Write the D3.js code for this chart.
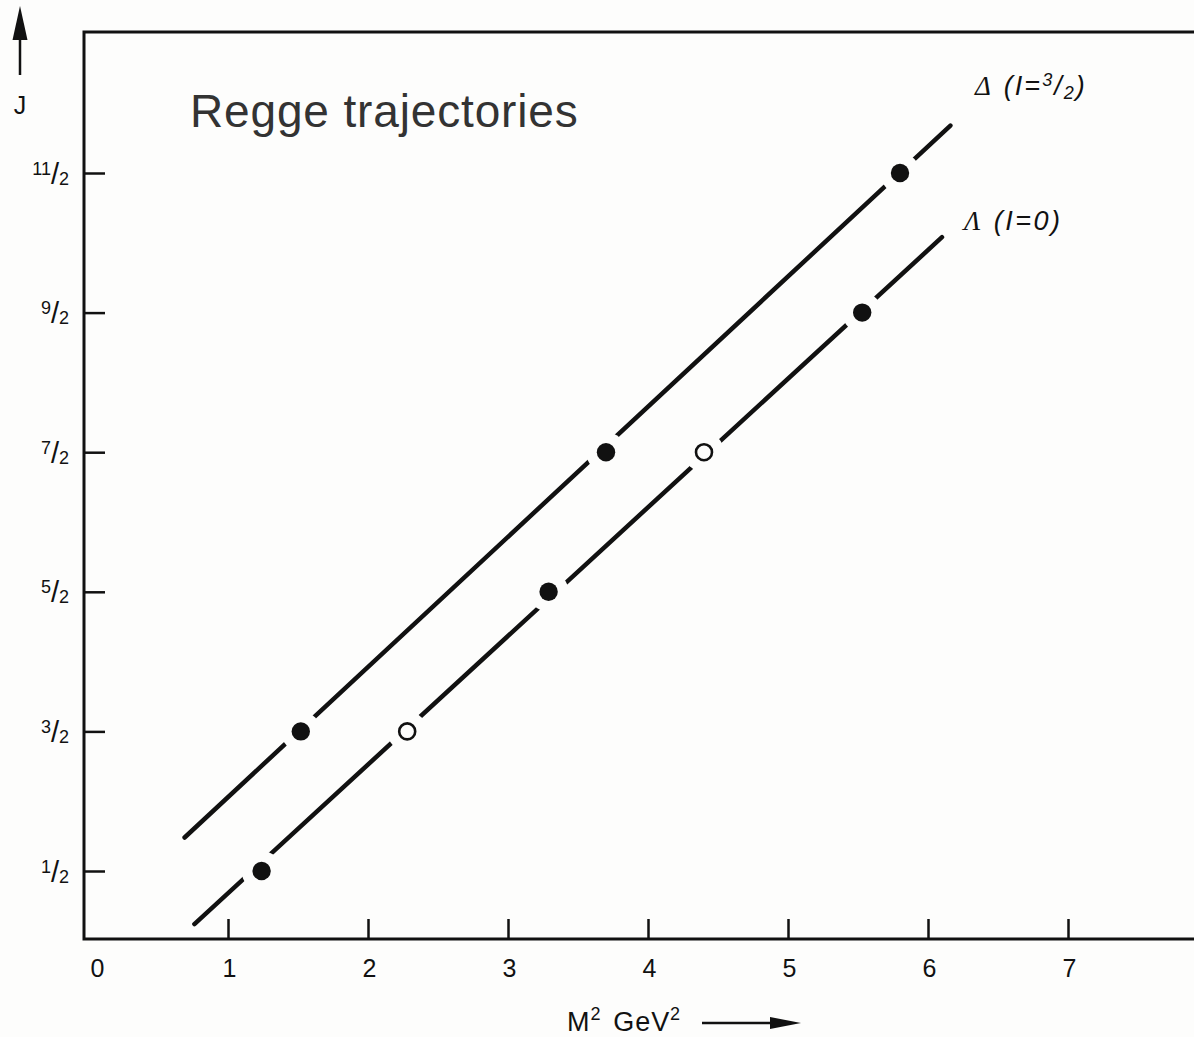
<!DOCTYPE html>
<html>
<head>
<meta charset="utf-8">
<title>Regge trajectories</title>
<script src="https://cdn.jsdelivr.net/npm/d3@7"></script>
<style>
  html, body { margin: 0; padding: 0; background: #fdfdfc; }
  svg { display: block; }
  text { font-family: "Liberation Sans", Arial, Helvetica, sans-serif; fill: #111; }
</style>
</head>
<body>
<svg id="chart" width="1194" height="1037"></svg>
<script>
// ---- data -------------------------------------------------------------
// x axis: squared mass M^2 in GeV^2
const massTicks = [0, 1, 2, 3, 4, 5, 6, 7];
// y axis: spin J, written as numerator / denominator
const spinTickNum = [1, 3, 5, 7, 9, 11];
const spinTickDen = [2, 2, 2, 2, 2, 2];

// Δ (I = 3/2) trajectory: states and fitted line
const deltaM2 = [1.52, 3.70, 5.80];
const deltaJ = [1.5, 3.5, 5.5];
const deltaObserved = [true, true, true];
const deltaLineM2 = [0.69, 6.16];
const deltaLineJ = [0.74, 5.84];

// Λ (I = 0) trajectory: states (open = missing/predicted) and fitted line
const lambdaM2 = [1.24, 2.28, 3.29, 4.40, 5.53];
const lambdaJ = [0.5, 1.5, 2.5, 3.5, 4.5];
const lambdaObserved = [true, false, true, false, true];
const lambdaLineM2 = [0.76, 6.10];
const lambdaLineJ = [0.12, 5.04];

// ---- layout -----------------------------------------------------------
const W = 1194, H = 1037;
const ink = "#111";
const paper = "#fdfdfc";
const svg = d3.select("#chart");

const x = d3.scaleLinear().domain([1, 7]).range([228, 1068]);
const y = d3.scaleLinear().domain([0.5, 5.5]).range([871, 173]);

const frameLeft = 84, frameTop = 32, frameBottom = 939;

// frame: left, top and bottom rules (top/bottom run off the right edge)
svg.append("path")
  .attr("d", `M${W},${frameTop}H${frameLeft}V${frameBottom}H${W}`)
  .attr("fill", "none").attr("stroke", ink).attr("stroke-width", 3)
  .attr("stroke-linejoin", "miter");

// ---- x axis -----------------------------------------------------------
const xAxis = d3.axisBottom(x)
  .tickValues(massTicks)
  .tickSizeInner(-20)
  .tickSizeOuter(0)
  .tickPadding(20)
  .tickFormat(d3.format("d"));

const gx = svg.append("g")
  .attr("transform", `translate(0,${frameBottom})`)
  .call(xAxis);
gx.select(".domain").remove();
gx.selectAll(".tick line").attr("stroke", ink).attr("stroke-width", 2.5)
  .attr("opacity", d => d === 0 ? 0 : 1);
gx.selectAll(".tick text")
  .attr("font-size", 25)
  .attr("fill", ink)
  .attr("font-family", "Liberation Sans, Arial, sans-serif")
  .attr("dx", d => d === 0 ? 9 : 1);

// ---- y axis -----------------------------------------------------------
const spinTicks = spinTickNum.map((n, i) => n / spinTickDen[i]);
const yAxis = d3.axisLeft(y)
  .tickValues(spinTicks)
  .tickSizeInner(-21)
  .tickSizeOuter(0)
  .tickPadding(15)
  .tickFormat(() => "");

const gy = svg.append("g")
  .attr("transform", `translate(${frameLeft},0)`)
  .call(yAxis);
gy.select(".domain").remove();
gy.selectAll(".tick line").attr("stroke", ink).attr("stroke-width", 2.5);

// stacked fraction labels: small numerator, tall slash, small denominator
gy.selectAll(".tick text").each(function (d, i) {
  const t = d3.select(this)
    .attr("dy", null)
    .attr("y", 10)
    .attr("fill", ink)
    .attr("font-family", "Liberation Sans, Arial, sans-serif");
  t.append("tspan").attr("font-size", 18).attr("dy", -9).text(spinTickNum[i]);
  t.append("tspan").attr("font-size", 29).attr("dy", 9).text("/");
  t.append("tspan").attr("font-size", 18).attr("dy", 1).text(spinTickDen[i]);
});

// ---- trajectories -----------------------------------------------------
const line = d3.line().x(d => x(d[0])).y(d => y(d[1]));
const plot = svg.append("g");

function drawTrajectory(lineM2, lineJ, m2, j) {
  plot.append("path")
    .attr("d", line(lineM2.map((v, i) => [v, lineJ[i]])))
    .attr("fill", "none")
    .attr("stroke", ink)
    .attr("stroke-width", 4.5)
    .attr("stroke-linecap", "round");
  // break the line around each state
  plot.selectAll(null)
    .data(m2.map((v, i) => [v, j[i]]))
    .join("circle")
    .attr("cx", d => x(d[0])).attr("cy", d => y(d[1]))
    .attr("r", 20)
    .attr("fill", paper);
}

function drawStates(m2, j, observed) {
  plot.selectAll(null)
    .data(m2.map((v, i) => ({ m2: v, j: j[i], obs: observed[i] })))
    .join("circle")
    .attr("cx", d => x(d.m2)).attr("cy", d => y(d.j))
    .attr("r", d => d.obs ? 9.2 : 8)
    .attr("fill", d => d.obs ? ink : paper)
    .attr("stroke", ink)
    .attr("stroke-width", d => d.obs ? 0 : 2.6);
}

drawTrajectory(deltaLineM2, deltaLineJ, deltaM2, deltaJ);
drawTrajectory(lambdaLineM2, lambdaLineJ, lambdaM2, lambdaJ);
drawStates(deltaM2, deltaJ, deltaObserved);
drawStates(lambdaM2, lambdaJ, lambdaObserved);

// ---- trajectory labels ------------------------------------------------
const deltaLabel = svg.append("text")
  .attr("x", 975).attr("y", 95)
  .attr("font-style", "italic").attr("font-size", 27)
  .attr("letter-spacing", 2);
deltaLabel.append("tspan").attr("font-family", "Liberation Serif, Times New Roman, serif").attr("font-size", 27).text("Δ");
deltaLabel.append("tspan").attr("dx", 11).text("(I=");
deltaLabel.append("tspan").attr("font-size", 18).attr("dy", -9).text("3");
deltaLabel.append("tspan").attr("dy", 9).text("/");
deltaLabel.append("tspan").attr("font-size", 18).attr("dy", 4).text("2");
deltaLabel.append("tspan").attr("dy", -4).text(")");

const lambdaLabel = svg.append("text")
  .attr("x", 964).attr("y", 230)
  .attr("font-style", "italic").attr("font-size", 27)
  .attr("letter-spacing", 2.5);
lambdaLabel.append("tspan").attr("font-family", "Liberation Serif, Times New Roman, serif").attr("font-size", 27).text("Λ");
lambdaLabel.append("tspan").attr("dx", 11).text("(I=0)");

// ---- title ------------------------------------------------------------
svg.append("text")
  .attr("x", 190).attr("y", 127)
  .attr("font-size", 46)
  .attr("letter-spacing", 0.85)
  .style("fill", "#333")
  .text("Regge trajectories");

// ---- axis titles with arrows -----------------------------------------
svg.append("line")
  .attr("x1", 20).attr("x2", 20).attr("y1", 75).attr("y2", 30)
  .attr("stroke", ink).attr("stroke-width", 2.5);
svg.append("path")
  .attr("d", "M20,6L12.5,40L27.5,40Z")
  .attr("fill", ink);
svg.append("text")
  .attr("x", 20).attr("y", 114)
  .attr("text-anchor", "middle")
  .attr("font-size", 25)
  .text("J");

const xTitle = svg.append("text")
  .attr("x", 567).attr("y", 1031)
  .attr("font-size", 27)
  .attr("letter-spacing", 0.9);
xTitle.append("tspan").text("M");
xTitle.append("tspan").attr("font-size", 18).attr("dy", -11).text("2");
xTitle.append("tspan").attr("dy", 11).attr("dx", 12).text("GeV");
xTitle.append("tspan").attr("font-size", 18).attr("dy", -11).text("2");

svg.append("line")
  .attr("x1", 702).attr("x2", 780).attr("y1", 1023).attr("y2", 1023)
  .attr("stroke", ink).attr("stroke-width", 2.5);
svg.append("path")
  .attr("d", "M801,1023L770,1017L770,1029Z")
  .attr("fill", ink);
</script>
</body>
</html>
